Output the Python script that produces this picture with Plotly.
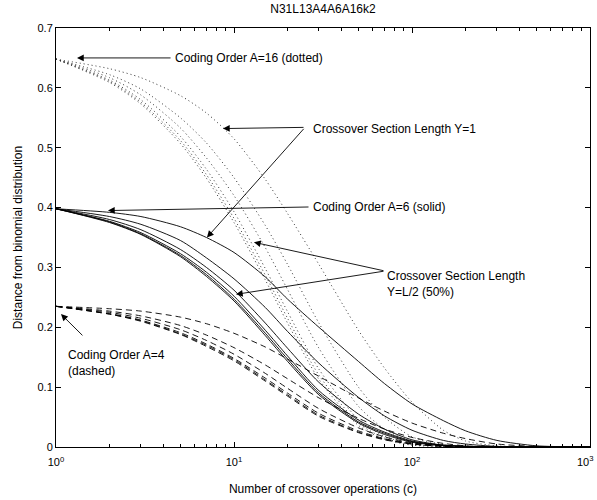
import plotly.graph_objects as go

# number of crossover operations
c = [1, 2, 3, 5, 7, 10, 15, 20, 30, 50, 70, 100, 150, 200, 300, 500, 1000]

# Coding order A=6 (solid), crossover section lengths Y=1..6
solid_y1 = [.398, .392, .385, .368, .350, .325, .284, .247, .200, .143, .106, .072, .044, .027, .011, .002, 0]
solid_y2 = [.398, .385, .372, .345, .316, .281, .233, .193, .140, .083, .052, .028, .011, .005, .001, 0, 0]
solid_y3 = [.398, .380, .363, .330, .300, .262, .207, .165, .108, .055, .030, .012, .003, .001, 0, 0, 0]
solid_y4 = [.398, .377, .358, .323, .292, .252, .195, .152, .094, .045, .025, .010, .003, .001, 0, 0, 0]
solid_y5 = [.398, .376, .356, .320, .288, .247, .190, .147, .090, .042, .023, .009, .003, .001, 0, 0, 0]
solid_y6 = [.398, .375, .355, .318, .285, .244, .186, .143, .087, .040, .021, .008, .002, .001, 0, 0, 0]

# Coding order A=16 (dotted)
dot_y1 = [.648, .632, .617, .587, .558, .515, .447, .390, .305, .195, .132, .075, .028, .010, .002, 0, 0]
dot_y2 = [.648, .622, .598, .550, .508, .450, .370, .305, .207, .100, .050, .017, .004, .001, 0, 0, 0]
dot_y3 = [.648, .617, .588, .533, .483, .420, .333, .263, .165, .068, .030, .009, .002, 0, 0, 0, 0]
dot_y4 = [.648, .613, .580, .519, .464, .393, .298, .226, .130, .046, .018, .005, .001, 0, 0, 0, 0]
dot_y5 = [.648, .611, .576, .512, .455, .382, .287, .215, .120, .040, .015, .004, .001, 0, 0, 0, 0]
dot_y6 = [.648, .609, .573, .507, .449, .375, .279, .207, .113, .036, .013, .003, .001, 0, 0, 0, 0]

# Coding order A=4 (dashed)
dash_y1 = [.235, .231, .227, .217, .206, .190, .167, .147, .118, .082, .060, .040, .023, .014, .005, .001, 0]
dash_y2 = [.235, .227, .219, .203, .187, .166, .137, .114, .082, .048, .030, .016, .006, .002, 0, 0, 0]
dash_y3 = [.235, .225, .215, .196, .178, .155, .123, .098, .064, .032, .017, .007, .002, .001, 0, 0, 0]
dash_y4 = [.235, .223, .212, .191, .172, .148, .115, .090, .056, .027, .014, .006, .002, 0, 0, 0, 0]
dash_y5 = [.235, .222, .211, .189, .170, .146, .112, .087, .053, .025, .013, .005, .001, 0, 0, 0, 0]
dash_y6 = [.235, .222, .210, .188, .168, .144, .110, .085, .051, .024, .012, .005, .001, 0, 0, 0, 0]

x_tickvals = [1, 10, 100, 1000]
x_ticktext = ["10<sup>0</sup>", "10<sup>1</sup>", "10<sup>2</sup>", "10<sup>3</sup>"]
y_tickvals = [0, 0.1, 0.2, 0.3, 0.4, 0.5, 0.6, 0.7]
y_ticktext = ["0", "0.1", "0.2", "0.3", "0.4", "0.5", "0.6", "0.7"]
minor_vals = [v * m for v in (1, 10, 100) for m in range(2, 10)]

fig = go.Figure()

families = [
    ([dot_y1, dot_y2, dot_y3, dot_y4, dot_y5, dot_y6],
     dict(color="#333", width=1, dash="1px,3px", shape="spline", smoothing=0.7)),
    ([solid_y1, solid_y2, solid_y3, solid_y4, solid_y5, solid_y6],
     dict(color="black", width=0.9, shape="spline", smoothing=0.7)),
    ([dash_y1, dash_y2, dash_y3, dash_y4, dash_y5, dash_y6],
     dict(color="black", width=0.9, dash="6px,4px", shape="spline", smoothing=0.7)),
]
for series, style in families:
    for ys in series:
        fig.add_trace(go.Scatter(x=c, y=ys, mode="lines", line=style,
                                 showlegend=False, hoverinfo="skip"))

FAM = "Liberation Sans, Arial, Helvetica, sans-serif"
font = dict(family=FAM, size=12, color="black")
tickfont = dict(family=FAM, size=11, color="black")

def arrow(hx, hy, tx, ty):
    return dict(x=hx, y=hy, ax=tx, ay=ty, xref="x", yref="y", axref="x", ayref="y",
                text="", showarrow=True, arrowhead=2, arrowsize=1.5, arrowwidth=0.9,
                arrowcolor="black", standoff=0, startstandoff=0)

def label(x, y, txt):
    return dict(x=x, y=y, xref="x", yref="y", text=txt, showarrow=False,
                xanchor="left", yanchor="middle", align="left", font=font)

annotations = [
    arrow(0.118, 0.650, 0.652, 0.650),
    label(0.655, 0.650, "Coding Order A=16 (dotted)"),
    arrow(0.938, 0.532, 1.399, 0.534),
    arrow(0.848, 0.350, 1.399, 0.534),
    label(1.430, 0.532, "Crossover Section Length Y=1"),
    arrow(0.292, 0.395, 1.427, 0.401),
    label(1.435, 0.401, "Coding Order A=6 (solid)"),
    arrow(1.112, 0.342, 1.848, 0.294),
    arrow(1.011, 0.255, 1.848, 0.294),
    label(1.850, 0.272, "Crossover Section Length<br>Y=L/2 (50%)"),
    arrow(0.028, 0.222, 0.157, 0.184),
    label(0.055, 0.141, "Coding Order A=4<br>(dashed)"),
    # last decade label, clipped at the figure edge like the reference
    dict(x=1, y=0, xref="paper", yref="paper", text=x_ticktext[-1], showarrow=False,
         xanchor="right", yanchor="top", xshift=5, yshift=-6, font=tickfont, borderpad=0),
]

axis_common = dict(showgrid=False, zeroline=False, showline=True, linecolor="black",
                   linewidth=1, mirror="allticks", ticks="inside", ticklen=5,
                   tickcolor="black", tickwidth=1, tickfont=tickfont)

fig.update_layout(
    width=597, height=500,
    margin=dict(l=56, r=6, t=28, b=51),
    paper_bgcolor="white", plot_bgcolor="white",
    font=font,
    title=dict(text="N31L13A4A6A16k2", x=0.5, xref="paper", xanchor="center",
               y=0.99, yanchor="top", font=font),
    annotations=annotations,
    xaxis=dict(type="log", range=[0, 3], tickmode="array", tickvals=x_tickvals[:-1] + [x_tickvals[-1]],
               ticktext=x_ticktext[:-1] + [""], ticklabelstandoff=5,
               title=dict(text="Number of crossover operations (c)", font=font, standoff=17),
               minor=dict(ticks="inside", ticklen=3, tickcolor="black", tickmode="array",
                          tickvals=minor_vals),
               **axis_common),
    yaxis=dict(range=[0, 0.7], tickmode="array", tickvals=y_tickvals, ticktext=y_ticktext,
               title=dict(text="Distance from binomial distribution", font=font, standoff=12),
               **axis_common),
)

fig.write_html("out.html")
